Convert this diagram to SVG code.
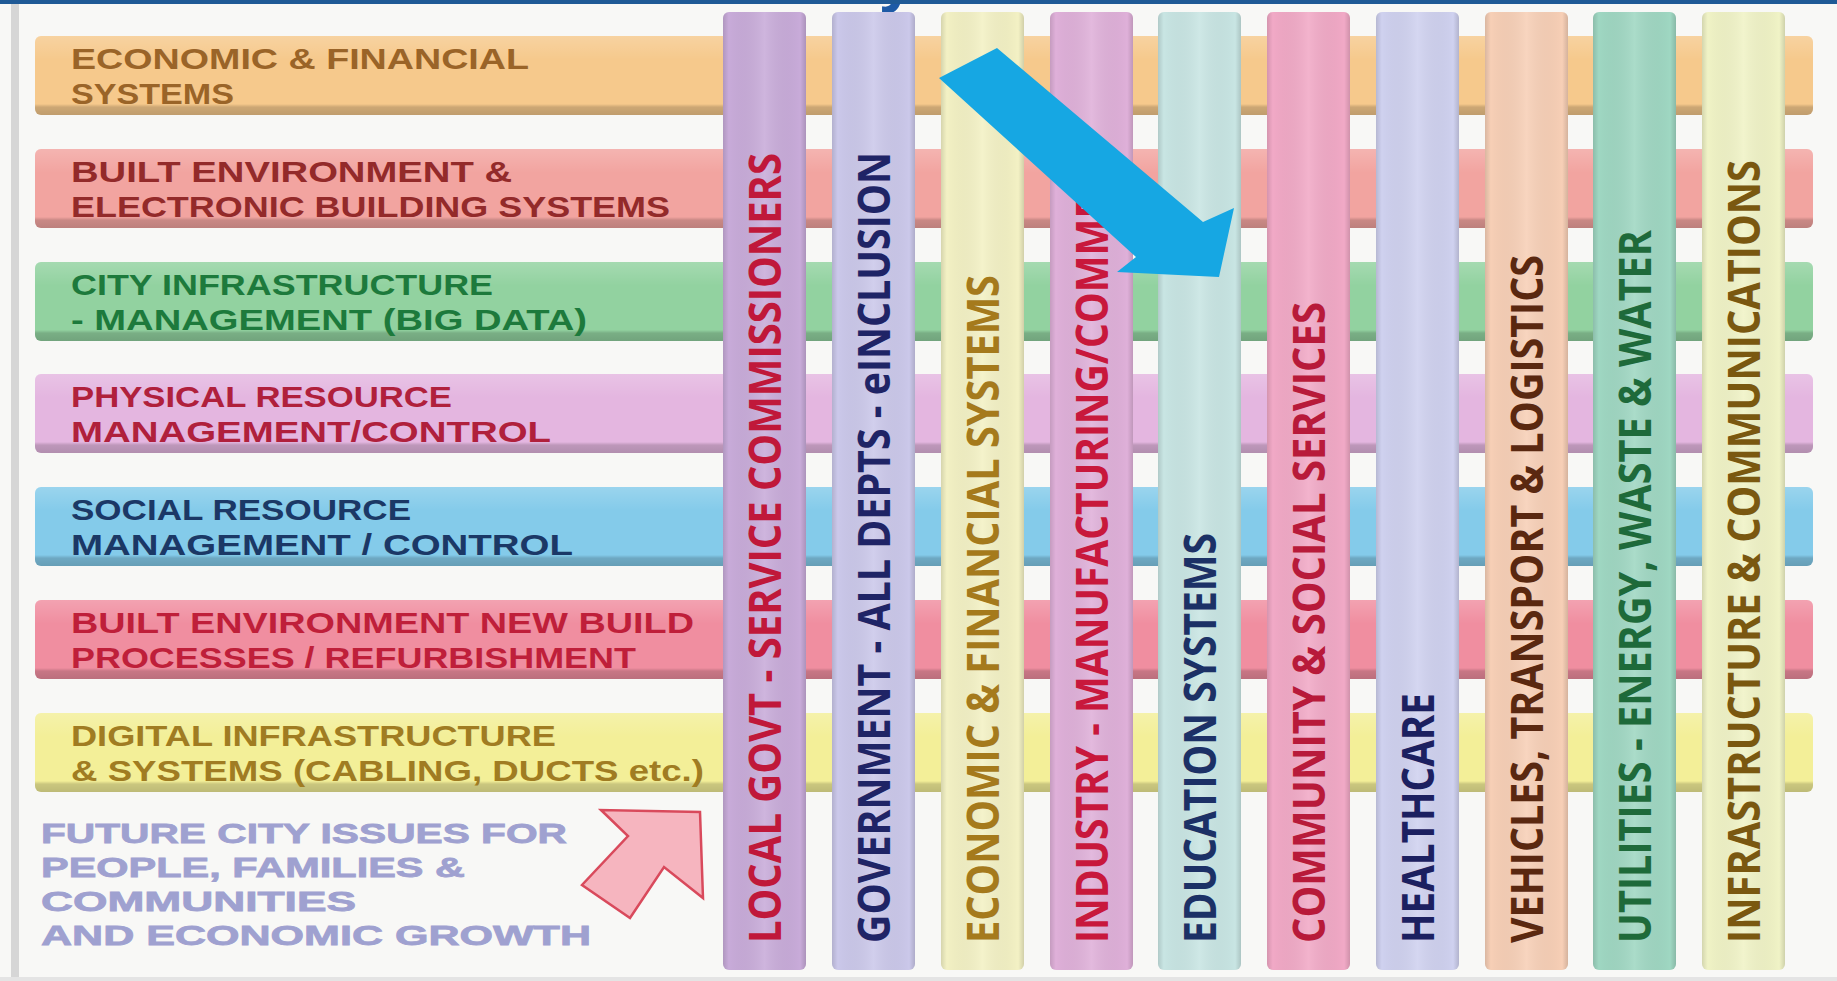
<svg xmlns="http://www.w3.org/2000/svg" width="1837" height="981" viewBox="0 0 1837 981">
<defs>
<style>
.lbl{font-family:"Liberation Sans",Arial,sans-serif;font-weight:700;font-size:30px}
.fut{font-family:"Liberation Sans",Arial,sans-serif;font-weight:700;font-size:28.5px;fill:#9fa1d0;stroke:#9fa1d0;stroke-width:0.8px}
.col{font-family:"Open Sans","Liberation Sans",sans-serif;font-weight:700;font-size:45px}
.shade{fill:url(#barShade)}
.cshade{fill:url(#colShade)}
</style>
<linearGradient id="barShade" x1="0" y1="0" x2="0" y2="1">
<stop offset="0" stop-color="#ffffff" stop-opacity="0.18"/>
<stop offset="0.3" stop-color="#ffffff" stop-opacity="0"/>
<stop offset="0.86" stop-color="#000000" stop-opacity="0"/>
<stop offset="0.9" stop-color="#000000" stop-opacity="0.17"/>
<stop offset="1" stop-color="#000000" stop-opacity="0.22"/>
</linearGradient>
<linearGradient id="colShade" x1="0" y1="0" x2="1" y2="0">
<stop offset="0" stop-color="#000000" stop-opacity="0.12"/>
<stop offset="0.07" stop-color="#000000" stop-opacity="0"/>
<stop offset="0.5" stop-color="#ffffff" stop-opacity="0.12"/>
<stop offset="0.93" stop-color="#000000" stop-opacity="0"/>
<stop offset="1" stop-color="#000000" stop-opacity="0.14"/>
</linearGradient>
</defs>

<rect x="0" y="0" width="1837" height="981" fill="#f8f8f6"/>
<rect x="11" y="4" width="8" height="973" fill="#d6d6d6"/>
<rect x="0" y="977" width="1837" height="4" fill="#e4e4e4"/>

<text x="880" y="-1" font-family="Open Sans, Liberation Sans, sans-serif" font-weight="700" font-size="60" fill="#1d5aa6">y</text>
<rect x="0" y="0" width="1837" height="4" fill="#1f5a96"/>

<g id="rows">
<g id="row-economic">
<rect x="35" y="36" width="1778" height="79" rx="6" fill="#f6c98c"/>
<rect x="35" y="36" width="1778" height="79" rx="6" class="shade"/>
<text class="lbl" fill="#9a6428" x="71" y="69" textLength="458" lengthAdjust="spacingAndGlyphs">ECONOMIC &amp; FINANCIAL</text>
<text class="lbl" fill="#9a6428" x="71" y="104" textLength="163" lengthAdjust="spacingAndGlyphs">SYSTEMS</text>
</g>
<g id="row-built-electronic">
<rect x="35" y="149" width="1778" height="79" rx="6" fill="#f2a4a0"/>
<rect x="35" y="149" width="1778" height="79" rx="6" class="shade"/>
<text class="lbl" fill="#932a2a" x="71" y="182" textLength="441" lengthAdjust="spacingAndGlyphs">BUILT ENVIRONMENT &amp;</text>
<text class="lbl" fill="#932a2a" x="71" y="217" textLength="599" lengthAdjust="spacingAndGlyphs">ELECTRONIC BUILDING SYSTEMS</text>
</g>
<g id="row-city-infra">
<rect x="35" y="262" width="1778" height="79" rx="6" fill="#92d2a0"/>
<rect x="35" y="262" width="1778" height="79" rx="6" class="shade"/>
<text class="lbl" fill="#1d7a3c" x="71" y="295" textLength="422" lengthAdjust="spacingAndGlyphs">CITY INFRASTRUCTURE</text>
<text class="lbl" fill="#1d7a3c" x="71" y="330" textLength="516" lengthAdjust="spacingAndGlyphs">- MANAGEMENT (BIG DATA)</text>
</g>
<g id="row-physical">
<rect x="35" y="374" width="1778" height="79" rx="6" fill="#e4b6e0"/>
<rect x="35" y="374" width="1778" height="79" rx="6" class="shade"/>
<text class="lbl" fill="#b0203c" x="71" y="407" textLength="381" lengthAdjust="spacingAndGlyphs">PHYSICAL RESOURCE</text>
<text class="lbl" fill="#b0203c" x="71" y="442" textLength="480" lengthAdjust="spacingAndGlyphs">MANAGEMENT/CONTROL</text>
</g>
<g id="row-social">
<rect x="35" y="487" width="1778" height="79" rx="6" fill="#84cbea"/>
<rect x="35" y="487" width="1778" height="79" rx="6" class="shade"/>
<text class="lbl" fill="#1b3866" x="71" y="520" textLength="340" lengthAdjust="spacingAndGlyphs">SOCIAL RESOURCE</text>
<text class="lbl" fill="#1b3866" x="71" y="555" textLength="502" lengthAdjust="spacingAndGlyphs">MANAGEMENT / CONTROL</text>
</g>
<g id="row-built-new">
<rect x="35" y="600" width="1778" height="79" rx="6" fill="#f08ea0"/>
<rect x="35" y="600" width="1778" height="79" rx="6" class="shade"/>
<text class="lbl" fill="#bf1f3a" x="71" y="633" textLength="623" lengthAdjust="spacingAndGlyphs">BUILT ENVIRONMENT NEW BUILD</text>
<text class="lbl" fill="#bf1f3a" x="71" y="668" textLength="565" lengthAdjust="spacingAndGlyphs">PROCESSES / REFURBISHMENT</text>
</g>
<g id="row-digital">
<rect x="35" y="713" width="1778" height="79" rx="6" fill="#f3ef98"/>
<rect x="35" y="713" width="1778" height="79" rx="6" class="shade"/>
<text class="lbl" fill="#a07c22" x="71" y="746" textLength="485" lengthAdjust="spacingAndGlyphs">DIGITAL INFRASTRUCTURE</text>
<text class="lbl" fill="#a07c22" x="71" y="781" textLength="633" lengthAdjust="spacingAndGlyphs">&amp; SYSTEMS (CABLING, DUCTS etc.)</text>
</g>
</g>

<g id="future-issues">
<text class="fut" x="41" y="843" textLength="526" lengthAdjust="spacingAndGlyphs">FUTURE CITY ISSUES FOR</text>
<text class="fut" x="41" y="877" textLength="424" lengthAdjust="spacingAndGlyphs">PEOPLE, FAMILIES &amp;</text>
<text class="fut" x="41" y="911" textLength="315" lengthAdjust="spacingAndGlyphs">COMMUNITIES</text>
<text class="fut" x="41" y="945" textLength="550" lengthAdjust="spacingAndGlyphs">AND ECONOMIC GROWTH</text>
</g>

<g id="columns">
<g id="col-local-govt">
<rect x="723" y="12" width="83" height="958" rx="6" fill="#c8abd9"/>
<rect x="723" y="12" width="83" height="958" rx="6" class="cshade"/>
<text class="col" fill="#c0183a" transform="translate(781,943) rotate(-90)" textLength="790" lengthAdjust="spacingAndGlyphs">LOCAL GOVT - SERVICE COMMISSIONERS</text>
</g>
<g id="col-government">
<rect x="832" y="12" width="83" height="958" rx="6" fill="#cbc8ea"/>
<rect x="832" y="12" width="83" height="958" rx="6" class="cshade"/>
<text class="col" fill="#1f2466" transform="translate(890,943) rotate(-90)" textLength="791" lengthAdjust="spacingAndGlyphs">GOVERNMENT - ALL DEPTS - eINCLUSION</text>
</g>
<g id="col-economic">
<rect x="941" y="12" width="83" height="958" rx="6" fill="#f3f1c4"/>
<rect x="941" y="12" width="83" height="958" rx="6" class="cshade"/>
<text class="col" fill="#a57a1c" transform="translate(999,943) rotate(-90)" textLength="668" lengthAdjust="spacingAndGlyphs">ECONOMIC &amp; FINANCIAL SYSTEMS</text>
</g>
<g id="col-industry">
<rect x="1050" y="12" width="83" height="958" rx="6" fill="#dfb0d9"/>
<rect x="1050" y="12" width="83" height="958" rx="6" class="cshade"/>
<text class="col" fill="#c8183c" transform="translate(1108,943) rotate(-90)" textLength="772" lengthAdjust="spacingAndGlyphs">INDUSTRY - MANUFACTURING/COMMER</text>
</g>
<g id="col-education">
<rect x="1158" y="12" width="83" height="958" rx="6" fill="#c8e5e3"/>
<rect x="1158" y="12" width="83" height="958" rx="6" class="cshade"/>
<text class="col" fill="#1c3166" transform="translate(1216,943) rotate(-90)" textLength="410" lengthAdjust="spacingAndGlyphs">EDUCATION SYSTEMS</text>
</g>
<g id="col-community">
<rect x="1267" y="12" width="83" height="958" rx="6" fill="#f1a9c6"/>
<rect x="1267" y="12" width="83" height="958" rx="6" class="cshade"/>
<text class="col" fill="#b81a3a" transform="translate(1325,943) rotate(-90)" textLength="641" lengthAdjust="spacingAndGlyphs">COMMUNITY &amp; SOCIAL SERVICES</text>
</g>
<g id="col-healthcare">
<rect x="1376" y="12" width="83" height="958" rx="6" fill="#cfd1ef"/>
<rect x="1376" y="12" width="83" height="958" rx="6" class="cshade"/>
<text class="col" fill="#1c2060" transform="translate(1434,943) rotate(-90)" textLength="250" lengthAdjust="spacingAndGlyphs">HEALTHCARE</text>
</g>
<g id="col-vehicles">
<rect x="1485" y="12" width="83" height="958" rx="6" fill="#f7cfb6"/>
<rect x="1485" y="12" width="83" height="958" rx="6" class="cshade"/>
<text class="col" fill="#5a2810" transform="translate(1543,943) rotate(-90)" textLength="688" lengthAdjust="spacingAndGlyphs">VEHICLES, TRANSPORT &amp; LOGISTICS</text>
</g>
<g id="col-utilities">
<rect x="1593" y="12" width="83" height="958" rx="6" fill="#9fd7c2"/>
<rect x="1593" y="12" width="83" height="958" rx="6" class="cshade"/>
<text class="col" fill="#1e6a3a" transform="translate(1651,943) rotate(-90)" textLength="713" lengthAdjust="spacingAndGlyphs">UTILITIES - ENERGY, WASTE &amp; WATER</text>
</g>
<g id="col-infrastructure">
<rect x="1702" y="12" width="83" height="958" rx="6" fill="#f0f3c6"/>
<rect x="1702" y="12" width="83" height="958" rx="6" class="cshade"/>
<text class="col" fill="#7a5810" transform="translate(1760,943) rotate(-90)" textLength="783" lengthAdjust="spacingAndGlyphs">INFRASTRUCTURE &amp; COMMUNICATIONS</text>
</g>
</g>

<g id="connectors">
<polygon id="blue-arrow" points="997,48 1203,222 1234,208 1219,277 1117,272 1136,257 939,78" fill="#16a7e3"/>
<polygon id="pink-arrow" points="601,810 628,836 582,885 630,918 664,867 703,898 700,812" fill="#f6b5bf" stroke="#d94a5c" stroke-width="2.5" stroke-linejoin="miter"/>
</g>
</svg>
